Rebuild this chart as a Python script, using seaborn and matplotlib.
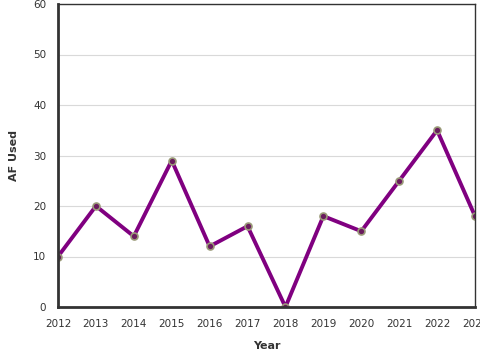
import pandas as pd
import numpy as np
import matplotlib
matplotlib.use("Agg")
import matplotlib.pyplot as plt
import seaborn as sns

years = [2012, 2013, 2014, 2015, 2016, 2017, 2018, 2019, 2020, 2021, 2022, 2023]
af_used = [10, 20, 14, 29, 12, 16, 0, 18, 15, 25, 35, 18]

df = pd.DataFrame({"Year": years, "AF Used": af_used})

sns.set_style("white")
plt.rcParams['font.family'] = ['DejaVu Sans']

fig = plt.figure(figsize=(4.8, 3.6), dpi=100)
ax = fig.add_axes([58/480, 53/360, 417/480, 303/360])

sns.lineplot(data=df, x="Year", y="AF Used", ax=ax, color="#800080", linewidth=2.8,
             marker="o", markersize=5, markerfacecolor="#6a1b5e",
             markeredgecolor="#9a9a78", markeredgewidth=1.2)

ax.set_xlim(2012, 2023)
ax.set_ylim(0, 60)
ax.set_xticks(years)
ax.set_yticks(range(0, 61, 10))
ax.yaxis.grid(True, color="#d9d9d9", linewidth=0.8)
ax.set_axisbelow(True)

for s in ["left", "bottom"]:
    ax.spines[s].set_linewidth(2)
    ax.spines[s].set_color("#333333")
for s in ["top", "right"]:
    ax.spines[s].set_linewidth(1)
    ax.spines[s].set_color("#333333")

ax.tick_params(axis="both", which="both", length=5, width=1, color="#333333",
               labelsize=7.5, labelcolor="#333333", direction="out")
ax.set_xlabel("Year", fontsize=8, fontweight="bold", color="#333333", labelpad=9)
ax.set_ylabel("AF Used", fontsize=8, fontweight="bold", color="#333333", labelpad=10)

fig.savefig("out.png", dpi=100)
